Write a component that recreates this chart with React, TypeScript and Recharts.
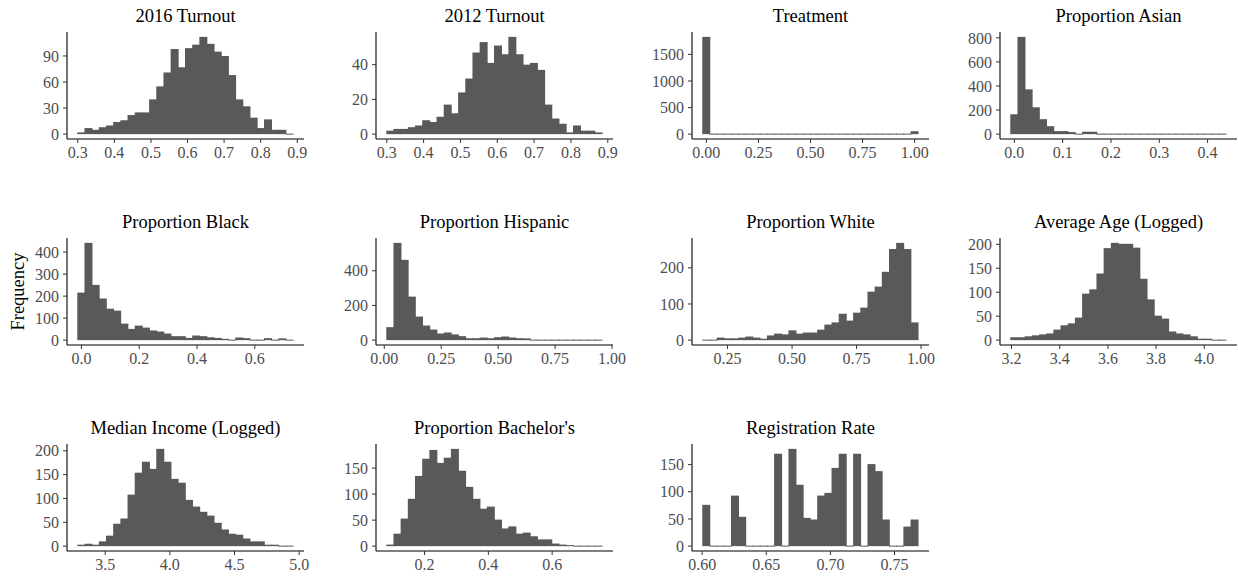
import React from 'react';
import { BarChart, Bar, XAxis, YAxis } from 'recharts';

const FONT = '"Liberation Serif", "Times New Roman", Times, serif';
const BAR_FILL = '#595959';

// ---- bin counts (30 bins per variable) and bin extents ----
const turnout2016Counts = [2, 7, 5, 8, 10, 14, 16, 22, 25, 25, 40, 55, 71, 98, 77, 99, 103, 112, 104, 95, 90, 68, 40, 32, 19, 7, 17, 5, 5, 1];
const turnout2016Range = [0.3, 0.889];
const turnout2016XTicks = [0.3, 0.4, 0.5, 0.6, 0.7, 0.8, 0.9];
const turnout2016YTicks = [0, 30, 60, 90];

const turnout2012Counts = [2, 3, 3, 4, 5, 8, 7, 10, 17, 12, 24, 32, 47, 53, 41, 51, 46, 56, 46, 40, 41, 37, 17, 9, 6, 1, 5, 2, 2, 1];
const turnout2012Range = [0.3, 0.885];
const turnout2012XTicks = [0.3, 0.4, 0.5, 0.6, 0.7, 0.8, 0.9];
const turnout2012YTicks = [0, 20, 40];

const treatmentCounts = [1830, 0, 0, 0, 0, 0, 0, 0, 0, 0, 0, 0, 0, 0, 0, 0, 0, 0, 0, 0, 0, 0, 0, 0, 0, 0, 0, 0, 0, 55];
const treatmentRange = [-0.01724, 1.01724];
const treatmentXTicks = [0, 0.25, 0.5, 0.75, 1];
const treatmentYTicks = [0, 500, 1000, 1500];

const asianCounts = [165, 808, 372, 223, 124, 66, 25, 25, 17, 5, 20, 20, 0, 0, 0, 0, 0, 0, 0, 0, 0, 0, 0, 0, 0, 0, 0, 0, 0, 0];
const asianRange = [-0.0074, 0.4386];
const asianXTicks = [0, 0.1, 0.2, 0.3, 0.4];
const asianYTicks = [0, 200, 400, 600, 800];

const blackCounts = [216, 442, 251, 189, 143, 134, 75, 51, 66, 57, 44, 39, 30, 18, 18, 10, 21, 18, 13, 10, 6, 4, 12, 9, 4, 4, 9, 4, 8, 3];
const blackRange = [-0.0126, 0.733];
const blackXTicks = [0, 0.2, 0.4, 0.6];
const blackYTicks = [0, 100, 200, 300, 400];

const hispanicCounts = [75, 561, 463, 251, 136, 84, 61, 38, 44, 33, 23, 11, 11, 15, 11, 17, 21, 15, 11, 10, 4, 2, 2, 1, 1, 2, 1, 1, 1, 2];
const hispanicRange = [0.011, 0.957];
const hispanicXTicks = [0, 0.25, 0.5, 0.75, 1];
const hispanicYTicks = [0, 200, 400];

const whiteCounts = [2, 2, 7, 5, 5, 7, 10, 7, 4, 13, 18, 16, 27, 18, 21, 21, 29, 43, 49, 73, 54, 76, 90, 134, 148, 189, 252, 269, 252, 49];
const whiteRange = [0.154, 0.989];
const whiteXTicks = [0.25, 0.5, 0.75, 1];
const whiteYTicks = [0, 100, 200];

const ageCounts = [6, 6, 8, 10, 12, 14, 22, 31, 35, 47, 97, 106, 139, 192, 203, 201, 201, 193, 128, 85, 51, 45, 18, 14, 12, 8, 3, 3, 1, 1];
const ageRange = [3.197, 4.091];
const ageXTicks = [3.2, 3.4, 3.6, 3.8, 4.0];
const ageYTicks = [0, 50, 100, 150, 200];

const incomeCounts = [3, 5, 3, 10, 22, 47, 58, 108, 154, 177, 162, 204, 177, 141, 133, 97, 83, 72, 64, 49, 35, 26, 24, 16, 10, 10, 3, 3, 1, 1];
const incomeRange = [3.288, 4.954];
const incomeXTicks = [3.5, 4.0, 4.5, 5.0];
const incomeYTicks = [0, 50, 100, 150, 200];

const bachelorsCounts = [3, 24, 53, 91, 135, 168, 185, 160, 170, 187, 145, 114, 91, 72, 76, 51, 34, 38, 24, 26, 19, 13, 13, 5, 3, 2, 1, 1, 1, 1];
const bachelorsRange = [0.0815, 0.757];
const bachelorsXTicks = [0.2, 0.4, 0.6];
const bachelorsYTicks = [0, 50, 100, 150];

const registrationCounts = [76, 0, 0, 0, 93, 54, 0, 0, 0, 0, 170, 0, 179, 113, 52, 49, 93, 98, 144, 170, 0, 170, 0, 151, 138, 49, 0, 0, 36, 49];
const registrationRange = [0.6005, 0.7685];
const registrationXTicks = [0.6, 0.65, 0.7, 0.75];
const registrationYTicks = [0, 50, 100, 150];

type Spec = {
  title: string;
  counts: number[];
  range: number[];
  xTicks: number[];
  yTicks: number[];
  digits: number;
};

const specs: Spec[] = [
  { title: '2016 Turnout', counts: turnout2016Counts, range: turnout2016Range, xTicks: turnout2016XTicks, yTicks: turnout2016YTicks, digits: 1 },
  { title: '2012 Turnout', counts: turnout2012Counts, range: turnout2012Range, xTicks: turnout2012XTicks, yTicks: turnout2012YTicks, digits: 1 },
  { title: 'Treatment', counts: treatmentCounts, range: treatmentRange, xTicks: treatmentXTicks, yTicks: treatmentYTicks, digits: 2 },
  { title: 'Proportion Asian', counts: asianCounts, range: asianRange, xTicks: asianXTicks, yTicks: asianYTicks, digits: 1 },
  { title: 'Proportion Black', counts: blackCounts, range: blackRange, xTicks: blackXTicks, yTicks: blackYTicks, digits: 1 },
  { title: 'Proportion Hispanic', counts: hispanicCounts, range: hispanicRange, xTicks: hispanicXTicks, yTicks: hispanicYTicks, digits: 2 },
  { title: 'Proportion White', counts: whiteCounts, range: whiteRange, xTicks: whiteXTicks, yTicks: whiteYTicks, digits: 2 },
  { title: 'Average Age (Logged)', counts: ageCounts, range: ageRange, xTicks: ageXTicks, yTicks: ageYTicks, digits: 1 },
  { title: 'Median Income (Logged)', counts: incomeCounts, range: incomeRange, xTicks: incomeXTicks, yTicks: incomeYTicks, digits: 1 },
  { title: "Proportion Bachelor's", counts: bachelorsCounts, range: bachelorsRange, xTicks: bachelorsXTicks, yTicks: bachelorsYTicks, digits: 1 },
  { title: 'Registration Rate', counts: registrationCounts, range: registrationRange, xTicks: registrationXTicks, yTicks: registrationYTicks, digits: 2 },
];

// ---- grid layout (plot panel boxes) ----
const COL_LEFT = [67, 376, 692, 1000];
const ROW_TOP = [32, 238, 444];
const PW = 237;
const PH = 107;
const YW = 64; // room for y tick labels
const MT = 12; // room above the panel for the top tick label
const MR = 18; // room right of the panel for the last tick label
const XH = 32; // x axis band height

function binRows(counts: number[], range: number[]) {
  const [lo, hi] = range;
  const w = (hi - lo) / counts.length;
  return counts.map((n, i) => ({ x: lo + (i + 0.5) * w, n }));
}

// adjacent bins touch; zero-count bins still leave a hairline on the baseline
const HistBar = (props: any) => {
  const { x, y, width, height } = props;
  if (width == null || isNaN(width)) return null;
  const h = Math.max(height || 0, 0);
  if (h < 1) {
    return <rect x={x - 0.5} y={y + h - 0.5} width={width + 1} height={1} fill={BAR_FILL} />;
  }
  return <rect x={x - 0.5} y={y} width={width + 1} height={h} fill={BAR_FILL} />;
};

const tickStyle = { fill: '#4d4d4d', fontSize: 16, fontFamily: FONT };

function Histogram({ spec, left, top }: { spec: Spec; left: number; top: number }) {
  const rows = binRows(spec.counts, spec.range);
  const [lo, hi] = spec.range;
  const r = hi - lo;
  const xDomain = [lo - 0.05 * r, hi + 0.05 * r];
  const m = Math.max(...spec.counts);
  const yDomain = [-0.05 * m, 1.05 * m];
  return (
    <div style={{ position: 'absolute', left: left - YW, top: top - MT }}>
      <BarChart
        width={YW + PW + MR}
        height={MT + PH + XH}
        data={rows}
        margin={{ top: MT, right: MR, bottom: 0, left: 0 }}
        barCategoryGap={0}
        barGap={0}
      >
        <XAxis
          type="number"
          dataKey="x"
          domain={xDomain}
          allowDataOverflow
          ticks={spec.xTicks}
          interval={0}
          height={XH}
          tickSize={4}
          tickMargin={4}
          tickFormatter={(v: number) => v.toFixed(spec.digits)}
          tick={tickStyle}
          axisLine={{ stroke: '#000', strokeWidth: 1.1 }}
          tickLine={{ stroke: '#333' }}
        />
        <YAxis
          type="number"
          domain={yDomain}
          allowDataOverflow
          ticks={spec.yTicks}
          interval={0}
          width={YW}
          tickSize={4}
          tickMargin={4}
          tick={tickStyle}
          axisLine={{ stroke: '#000', strokeWidth: 1.1 }}
          tickLine={{ stroke: '#333' }}
        />
        <Bar dataKey="n" fill={BAR_FILL} isAnimationActive={false} shape={HistBar} />
      </BarChart>
    </div>
  );
}

export default function App() {
  return (
    <div
      style={{
        position: 'absolute',
        left: 0,
        top: 0,
        width: 1238,
        height: 578,
        background: '#fff',
        overflow: 'hidden',
      }}
    >
      {specs.map((spec, i) => {
        const col = i % 4;
        const row = Math.floor(i / 4);
        return <Histogram key={spec.title} spec={spec} left={COL_LEFT[col]} top={ROW_TOP[row]} />;
      })}
      <svg
        width={1238}
        height={578}
        style={{ position: 'absolute', left: 0, top: 0, pointerEvents: 'none' }}
      >
        {specs.map((spec, i) => {
          const col = i % 4;
          const row = Math.floor(i / 4);
          return (
            <text
              key={spec.title}
              x={COL_LEFT[col] + PW / 2}
              y={ROW_TOP[row] - 10}
              textAnchor="middle"
              fontFamily={FONT}
              fontSize={18.5}
              fill="#000"
            >
              {spec.title}
            </text>
          );
        })}
        <text
          x={24}
          y={ROW_TOP[1] + PH / 2}
          transform={`rotate(-90 24 ${ROW_TOP[1] + PH / 2})`}
          textAnchor="middle"
          fontFamily={FONT}
          fontSize={18.5}
          fill="#000"
        >
          Frequency
        </text>
      </svg>
    </div>
  );
}
